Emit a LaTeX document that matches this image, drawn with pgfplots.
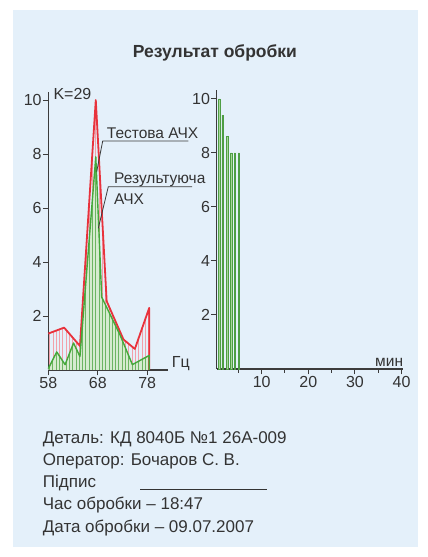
\documentclass[border=0pt]{standalone}
\usepackage{pgfplots}
\pgfplotsset{compat=1.18}
\usepackage{fontspec}
\setmainfont{Liberation Sans}
\usetikzlibrary{patterns,patterns.meta}
\definecolor{bgblue}{HTML}{E4F0FA}
\definecolor{textgray}{HTML}{333333}
\definecolor{axisgray}{HTML}{3C3C3C}
\definecolor{redline}{HTML}{E8323C}
\definecolor{greenline}{HTML}{45A83A}
\definecolor{pinkhatch}{HTML}{F2A0AA}
\definecolor{greenfill}{HTML}{D6EBCF}
\definecolor{greenhatch}{HTML}{6DB562}
\definecolor{barfill}{HTML}{A8D89A}
\definecolor{bardraw}{HTML}{4E9E44}
\newcommand\fs[1]{\fontsize{#1}{#1}\selectfont}
\pgfplotsset{
  common/.style={
    scale only axis,
    axis x line*=bottom, axis y line*=left,
    axis line style={draw=axisgray, line width=1.2pt},
    tick style={draw=axisgray, line width=1pt},
    tick align=outside,
    major tick length=5.5pt,
    minor tick length=4pt,
    /pgf/number format/assume math mode=true,
    tick label style={font=\fs{16}, text=textgray},
    yticklabel style={inner sep=1pt},
    xticklabel style={inner sep=1pt, yshift=-1pt},
    ymin=0,
    ytick={2,4,6,8,10},
    clip=false,
  }
}
\begin{document}
\begin{tikzpicture}[x=1pt,y=1pt]
\useasboundingbox (0pt,0pt) rectangle (428pt,557pt);
\fill[white] (0pt,0pt) rectangle (428pt,557pt);
\fill[bgblue] (13pt,10pt) rectangle (418pt,547pt);

% left axis
\begin{axis}[common,
  at={(48.3pt,187pt)}, anchor=south west,
  width=119.7pt, height=278pt,
  xmin=58, xmax=82.2, ymax=10.3,
  xtick={58,68,78},
]
\addplot[draw=none, pattern={Lines[angle=90,distance=3.3pt,line width=0.6pt]}, pattern color=pinkhatch]
 coordinates {(58,1.35) (61.2,1.57) (64.4,0.89) (67.6,10.0) (69.8,2.55) (73.2,1.13) (75.5,0.78) (78.4,2.3) (78.4,0)} \closedcycle;
\addplot[draw=none, fill=greenfill]
 coordinates {(58,0.05) (59.7,0.67) (61.4,0.2) (63.1,1.0) (64.4,0.5) (67.6,7.9) (68.8,2.7) (72.5,1.3) (75.0,0.2) (78.4,0.54) (78.4,0)} \closedcycle;
\addplot[draw=none, pattern={Lines[angle=90,distance=3.3pt,line width=0.7pt]}, pattern color=greenhatch]
 coordinates {(58,0.05) (59.7,0.67) (61.4,0.2) (63.1,1.0) (64.4,0.5) (67.6,7.9) (68.8,2.7) (72.5,1.3) (75.0,0.2) (78.4,0.54) (78.4,0)} \closedcycle;
\addplot[redline, line width=1.8pt, line join=round]
 coordinates {(58,1.35) (61.2,1.57) (64.4,0.89) (67.6,10.0) (69.8,2.55) (73.2,1.13) (75.5,0.78) (78.4,2.3) (78.4,0)};
\addplot[greenline, line width=1.4pt, line join=round]
 coordinates {(58,0.05) (59.7,0.67) (61.4,0.2) (63.1,1.0) (64.4,0.5) (67.6,7.9) (68.8,2.7) (72.5,1.3) (75.0,0.2) (78.4,0.54) (78.4,0)};
\end{axis}

% right axis
\begin{axis}[common,
  at={(216.7pt,188pt)}, anchor=south west,
  width=186.3pt, height=279pt,
  xmin=0.36, xmax=40.3, ymax=10.33,
  xtick={10,20,30,40}, minor xtick={5,15,25,35},
]
\addplot[ybar, bar width=1.5pt, fill=barfill, draw=bardraw, line width=0.5pt]
 coordinates {(0.92,10) (1.65,9.4) (2.64,8.6) (3.43,8.0) (4.28,8.0) (5.14,8.0)};
\end{axis}

% texts
\node[anchor=base, text=textgray, font=\fs{17.5}\bfseries, inner sep=0] at (215pt,499.3pt) {Результат обробки};
\node[anchor=base west, text=textgray, font=\fs{16}, inner sep=0] at (53.3pt,457pt) {K=29};
\node[anchor=base west, text=textgray, font=\fs{15.5}, inner sep=0] at (106.7pt,418.7pt) {Тестова АЧХ};
\draw[axisgray, line width=0.8pt] (96.7pt,385.3pt) -- (102.7pt,416pt) -- (188.3pt,416pt);
\node[anchor=base west, text=textgray, font=\fs{15.5}, inner sep=0] at (114pt,373.7pt) {Результуюча};
\node[anchor=base west, text=textgray, font=\fs{15.5}, inner sep=0] at (114pt,352pt) {АЧХ};
\draw[axisgray, line width=0.8pt] (98.3pt,328.7pt) -- (108.3pt,370.3pt) -- (192pt,370.3pt);
\node[anchor=base west, text=textgray, font=\fs{16}, inner sep=0] at (171.7pt,189pt) {Гц};
\node[anchor=base west, text=textgray, font=\fs{15.5}, inner sep=0] at (375pt,190.3pt) {мин};

\begin{scope}[every node/.style={anchor=base west, text=textgray, font=\fs{17}, inner sep=0}]
\node at (42.7pt,113.7pt) {Деталь: КД 8040Б №1 26А-009};
\node at (42.7pt,91pt) {Оператор: Бочаров С. В.};
\node at (42.7pt,69.3pt) {Підпис};
\node at (42.7pt,47pt) {Час обробки – 18:47};
\node at (42.7pt,24.3pt) {Дата обробки – 09.07.2007};
\end{scope}
\draw[textgray, line width=0.7pt] (140pt,67.7pt) -- (266.7pt,67.7pt);
\end{tikzpicture}
\end{document}
